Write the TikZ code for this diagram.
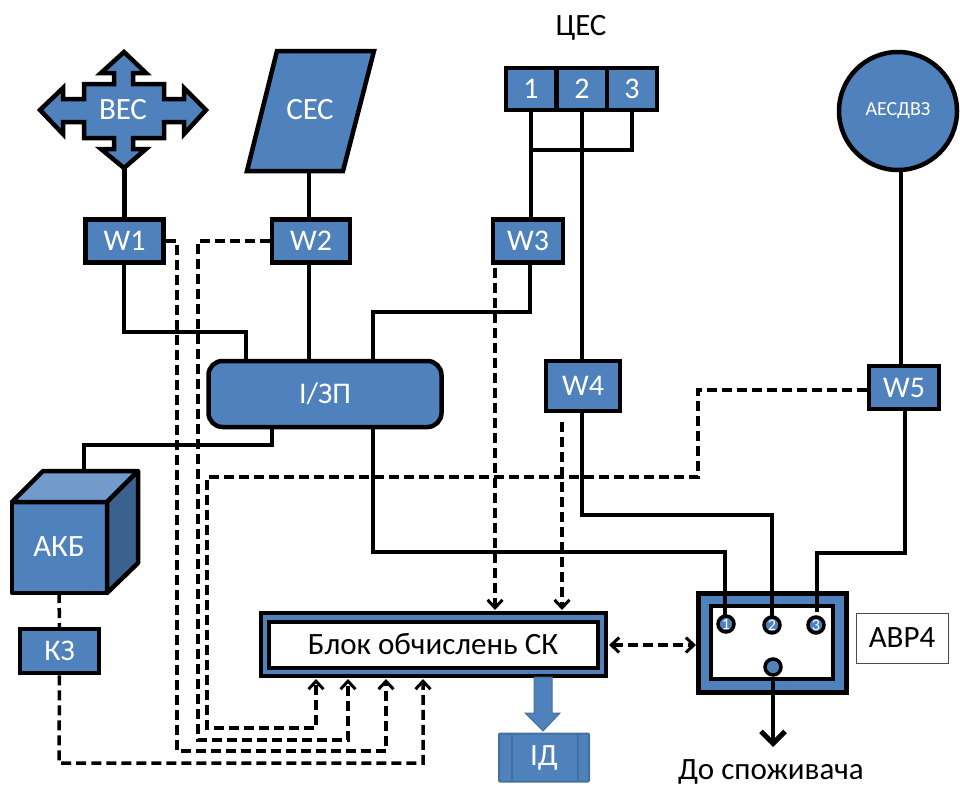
\documentclass[tikz,border=0pt]{standalone}
\usepackage{fontspec}
\setmainfont{Carlito}
\usetikzlibrary{arrows.meta}
\definecolor{bl}{HTML}{4F81BD}
\definecolor{bld}{HTML}{41719C}
\newcommand{\fs}[1]{\fontsize{#1}{#1}\selectfont}
\tikzset{
  x=1pt,y=-1pt,
  shp/.style={draw=black,line width=4.5pt,fill=bl,line join=miter},
  bluebox/.style={shp,text=white,font=\fs{30},inner sep=0pt,align=center},
  lbl/.style={text=white,font=\fs{31},inner sep=0pt},
  plain/.style={text=black,font=\fs{31},inner sep=0pt},
  wire/.style={draw=black,line width=4.5pt,line join=miter},
  dsh/.style={draw=black,line width=3.5pt,dash pattern=on 10pt off 5pt,line join=miter},
  ctip/.style={-{Straight Barb[length=8pt,width=15pt,line width=3pt]}},
  ctipb/.style={{Straight Barb[length=8pt,width=15pt,line width=3pt]}-{Straight Barb[length=8pt,width=15pt,line width=3pt]}},
  contact/.style={circle,draw=black,line width=3.5pt,fill=bl,text=white,minimum size=16pt,inner sep=0pt,font=\fs{16}},
}
\begin{document}
\begin{tikzpicture}
\useasboundingbox (0,0) rectangle (960,787);
% --- sources
\draw[shp] (124,52) -- (146,73) -- (133,73) -- (133,84) -- (164,84) -- (164,99) -- (184,99) -- (184,88) -- (206,110) -- (184,134) -- (184,122) -- (164,122) -- (164,138) -- (133,138) -- (133,149) -- (146,149) -- (124,168) -- (101,149) -- (114,149) -- (114,138) -- (84,138) -- (84,122) -- (63,122) -- (63,134) -- (40,110) -- (63,88) -- (63,99) -- (84,99) -- (84,84) -- (114,84) -- (114,73) -- (101,73) -- cycle;
\node[lbl] (VES) at (123,110) {ВЕС};
\draw[shp] (277,51) -- (374,51) -- (343,171) -- (247,171) -- cycle;
\node[lbl] (SES) at (310,110) {СЕС};
\node[plain] (CES) at (581,28) {ЦЕС};
\node[bluebox,minimum width=50pt,minimum height=42pt] (c1) at (531,89) {1};
\node[bluebox,minimum width=50pt,minimum height=42pt] (c2) at (582,89) {2};
\node[bluebox,minimum width=50pt,minimum height=42pt] (c3) at (632,89) {3};
\node[shp,circle,minimum size=118pt,inner sep=0pt,text=white,font=\fs{20}] (AES) at (898,111) {АЕСДВЗ};
% --- switches
\node[bluebox,minimum width=78pt,minimum height=43pt] (W1) at (124.5,241) {W1};
\node[bluebox,minimum width=78pt,minimum height=43pt] (W2) at (311,241) {W2};
\node[bluebox,minimum width=70pt,minimum height=43pt] (W3) at (528,241) {W3};
\node[bluebox,minimum width=74pt,minimum height=50pt] (W4) at (583,386) {W4};
\node[bluebox,minimum width=70pt,minimum height=43pt] (W5) at (904,387.5) {W5};
\node[bluebox,rounded corners=14pt,minimum width=233pt,minimum height=66pt] (ZP) at (325,394) {І/ЗП};
% --- АКБ
\draw[shp,line join=round,fill=bl] (12,502) rectangle (107,593);
\draw[shp,line join=round,fill=bl!80!white] (12,502) -- (43,471) -- (138,471) -- (107,502) -- cycle;
\draw[shp,line join=round,fill=bl!75!black] (107,502) -- (138,471) -- (138,563) -- (107,593) -- cycle;
\node[lbl] (AKB) at (59,547) {АКБ};
\coordinate (AKBt) at (84,471);
\coordinate (AKBb) at (59,593);
\node[bluebox,minimum width=79pt,minimum height=44pt] (KZ) at (59.5,651) {КЗ};
% --- Блок обчислень
\node[shp,minimum width=345pt,minimum height=63pt,inner sep=0pt] (BO) at (433.5,644.5) {};
\node[draw=black,fill=white,line width=4pt,minimum width=329pt,minimum height=46pt,inner sep=0pt,text=black,font=\fs{31}] (BOi) at (433,644.5) {Блок обчислень СК};
% --- АВР
\node[shp,minimum width=148pt,minimum height=99pt,inner sep=0pt] (AVR) at (772.5,643) {};
\node[draw=black,fill=white,line width=4pt,minimum width=122pt,minimum height=73pt,inner sep=0pt] (AVRi) at (772,642.5) {};
\node[draw=black!70,line width=1pt,fill=white,minimum width=92pt,minimum height=50pt,inner sep=0pt,font=\fs{31}] (AVRl) at (902,638) {АВР4};
% --- ІД
\node[fill=bl,draw=bld,line width=2pt,rounded corners=1pt,minimum width=90pt,minimum height=48pt,inner sep=0pt] (ID) at (544,757.5) {};
\draw[bld,line width=2pt] (512,733) -- (512,782) (578,733) -- (578,782);
\node[lbl] at (ID.center) {ІД};
\draw[fill=bl,draw=bld,line width=1pt] (534,677) -- (552,677) -- (552,713) -- (560,713) -- (543,731) -- (525,713) -- (534,713) -- cycle;
% --- solid wires
\draw[wire] (W1.north |- 0,168) -- (W1.north);
\draw[wire] (309,171) -- (309,221);
\draw[wire] (c1.south) -- (W3.north -| c1);
\draw[wire] (c2.south) -- (W4.north -| c2);
\draw[wire] (c3.south) -- (632,150) -- (530,150);
\draw[wire] (901,170) -- (901,366);
\draw[wire] (124,262) -- (124,332) -- (246,332) -- (246,361);
\draw[wire] (309,262) -- (309,361);
\draw[wire] (530,262) -- (530,312) -- (373,312) -- (373,361);
\draw[wire] (272,427) -- (272,445) -- (84,445) -- (AKBt);
% --- dashed wires
\draw[dsh,ctip] (W1.east) -- (177,241) -- (177,751) -- (386,751) -- (386,679);
\draw[dsh,ctip] (W2.west) -- (198,241) -- (198,740) -- (348,740) -- (348,679);
\draw[dsh,ctip] ([yshift=-2.5pt]W5.west) -- (698,390) -- (698,477) -- (207,477) -- (207,728) -- (316,728) -- (316,679);
\draw[dsh,ctip] (KZ.south) -- (59,763) -- (423,763) -- (423,679);
\draw[dsh] (AKBb) -- (KZ.north);
\draw[dsh,ctip] (495,268) -- (495,610);
\draw[dsh,ctip] (562,422) -- (562,610);
\draw[dsh,ctipb] (609,645) -- (696,645);
% --- solid wires to АВР
\draw[wire] (373,427) -- (373,552) -- (725,552) -- (725,616);
\draw[wire] (582,411) -- (582,515) -- (772,515) -- (772,616);
\draw[wire] (905,407) -- (905,553) -- (817,553) -- (817,612);
% --- contacts
\node[contact] (k1) at (726,624) {1};
\node[contact] (k2) at (772,625) {2};
\node[contact] (k3) at (816,625) {3};
\node[contact] (k4) at (773,667) {};
\draw[draw=black,line width=4.5pt,-{Straight Barb[length=12pt,width=24pt,line width=5pt]}] (k4.south) -- (773,747);
\node[plain] (OUT) at (771,772) {До споживача};
\end{tikzpicture}
\end{document}
